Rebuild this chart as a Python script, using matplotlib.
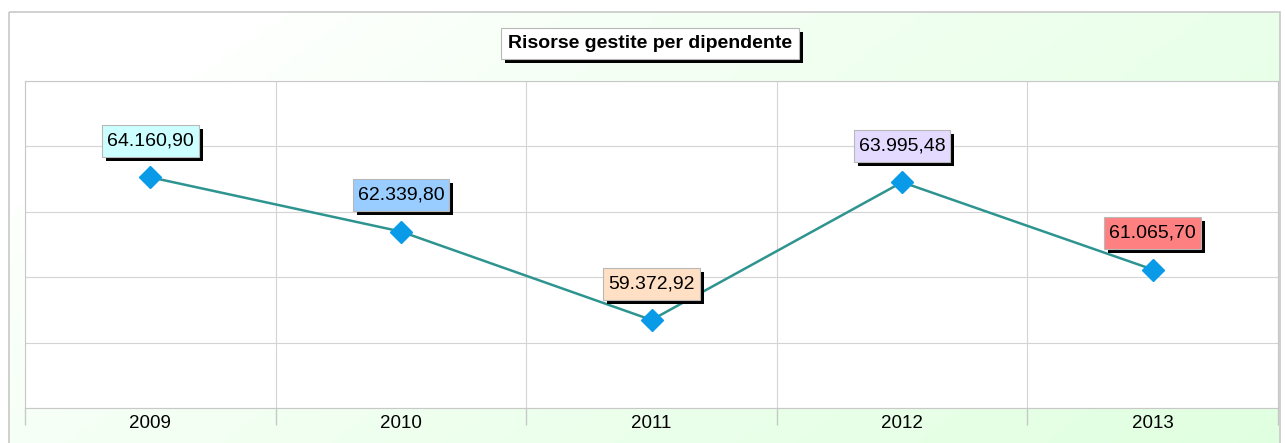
import numpy as np
import matplotlib
matplotlib.use("Agg")
import matplotlib.pyplot as plt
from matplotlib.patches import Rectangle
from matplotlib.transforms import IdentityTransform

plt.rcParams['font.family'] = ['Liberation Sans', 'DejaVu Sans']

years = ["2009", "2010", "2011", "2012", "2013"]
values = [64160.90, 62339.80, 59372.92, 63995.48, 61065.70]
labels = ["64.160,90", "62.339,80", "59.372,92", "63.995,48", "61.065,70"]
label_colors = ["#CCFFFF", "#99CCFF", "#FFE0C4", "#E4DAFF", "#FF8080"]
title = "Risorse gestite per dipendente"

W, H = 1285, 443
fig = plt.figure(figsize=(W / 100, H / 100), dpi=100)

# background gradient
bg = fig.add_axes([0, 0, 1, 1], zorder=-10)
bg.set_xlim(0, W)
bg.set_ylim(H, 0)
bg.axis("off")
xx, yy = np.meshgrid(np.linspace(0, 1, 300), np.linspace(0, 1, 100))
t = np.clip(0.75 * xx + 0.35 * yy - 0.15, 0, 1)
t = t ** 0.8
c0 = np.array([1.0, 1.0, 1.0])
c1 = np.array([0.875, 1.0, 0.875])
img = c0[None, None, :] * (1 - t[..., None]) + c1[None, None, :] * t[..., None]
bg.imshow(img, extent=[9, 1280, 443, 12], aspect="auto", zorder=0)
bg.add_patch(Rectangle((9, 12), 1271, 440, fill=False, edgecolor="#C8C8C8", lw=1.2, zorder=1))

# plot area
ax = fig.add_axes([25 / W, 35 / H, 1253 / W, 327 / H])
ax.set_facecolor("white")
x = np.arange(len(years))
ax.set_xlim(-0.5, len(years) - 0.5)
ax.set_ylim(56420, 67390)

ax.set_yticks(np.linspace(56420, 67390, 6))
ax.set_yticklabels([])
ax.tick_params(axis="y", length=0)
ax.set_xticks(np.arange(len(years) + 1) - 0.5)
ax.set_xticklabels([])
ax.tick_params(axis="x", which="major", length=12, color="#C8C8C8", width=1)
ax.set_xticks(x, minor=True)
ax.set_xticklabels(years, minor=True, fontsize=13.5)
ax.tick_params(axis="x", which="minor", length=0, pad=5)
ax.grid(True, which="major", color="#D4D4D4", lw=0.8)
for s in ax.spines.values():
    s.set_color("#C8C8C8")
    s.set_linewidth(0.8)

ax.plot(x, values, color="#2E9490", lw=1.8, zorder=3)
ax.plot(x, values, linestyle="none", marker="D", ms=11, color="#0A9BE8", zorder=4)

items = []
for xi, v, lab, col in zip(x, values, labels, label_colors):
    a = ax.annotate(lab, (xi, v), xytext=(0, 26), textcoords="offset points",
                    ha="center", va="center", fontsize=14, color="black",
                    zorder=7, annotation_clip=False)
    items.append((a, ax, col, 6))

# title
tx, ty = 650 / W, 1 - 43 / H
tt = fig.text(tx, ty, title, ha="center", va="center", fontsize=14,
              fontweight="bold", color="black", zorder=3)

fig.canvas.draw()
renderer = fig.canvas.get_renderer()

def boxed(parent, bb, col, z, px, py, add):
    add(Rectangle((bb.x0 - px + 4, bb.y0 - py - 4), bb.width + 2 * px, bb.height + 2 * py,
                  transform=IdentityTransform(), fc="black", ec="none", zorder=z - 0.5,
                  clip_on=False))
    add(Rectangle((bb.x0 - px, bb.y0 - py), bb.width + 2 * px, bb.height + 2 * py,
                  transform=IdentityTransform(), fc=col, ec="#B8B8B8", lw=0.8, zorder=z,
                  clip_on=False))

for a, parent, col, z in items:
    bb = a.get_window_extent(renderer)
    boxed(parent, bb, col, z, 5, 7.5, parent.add_patch)

def add_fig(p):
    p.set_figure(fig)
    fig.patches.append(p)

bb = tt.get_window_extent(renderer)
boxed(fig, bb, "white", 2, 7, 7, add_fig)

fig.savefig("out.png", dpi=100)
